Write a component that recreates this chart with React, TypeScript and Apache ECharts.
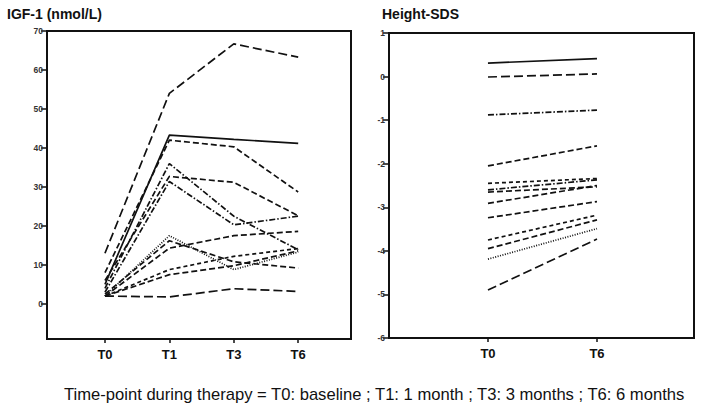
import React, { useEffect, useRef } from "react";
import * as echarts from "echarts";

const igfTimes = ["T0", "T1", "T3", "T6"];
const sdsTimes = ["T0", "T6"];

// IGF-1 (nmol/L) per patient at T0, T1, T3, T6
const igfA = [13, 54, 66.7, 63.3];
const igfB = [5, 43.3, 42.2, 41.2];
const igfC = [8, 42, 40.3, 28.7];
const igfD = [4, 36, 22.5, 13.9];
const igfE = [6, 32.7, 31.2, 22.6];
const igfF = [3, 31.4, 20.3, 22.5];
const igfG = [2, 17.5, 8.8, 13.3];
const igfH = [2, 14.3, 17.5, 18.6];
const igfI = [2.5, 16.2, 10.8, 9.2];
const igfJ = [2, 8.8, 12.2, 14.2];
const igfL = [2, 7.5, 9.8, 13.6];
const igfK = [2, 1.8, 3.9, 3.2];

// Height-SDS per patient at T0, T6
const sds1 = [0.31, 0.41];
const sds2 = [-0.01, 0.06];
const sds3 = [-0.88, -0.77];
const sds4 = [-2.05, -1.59];
const sds5 = [-2.45, -2.34];
const sds6 = [-2.6, -2.37];
const sds7 = [-2.65, -2.53];
const sds8 = [-2.91, -2.5];
const sds9 = [-3.24, -2.87];
const sds10 = [-3.75, -3.18];
const sds11 = [-3.95, -3.29];
const sds12 = [-4.19, -3.49];
const sds13 = [-4.9, -3.73];

const igfTicks = [0, 10, 20, 30, 40, 50, 60, 70];
const sdsTicks = [1, 0, -1, -2, -3, -4, -5, -6];

const footer =
  "Time-point during therapy = T0: baseline ; T1: 1 month ; T3: 3 months ; T6: 6 months";

const DASH_LONG = [9, 4];
const DASH_MED = [6, 3];
const DASH_SHORT = [4, 3];
const DOT = [1, 1.5];
const DASH_DOT = [6, 2, 1.5, 2];

const igfSeries: [number[], any][] = [
  [igfA, DASH_LONG],
  [igfB, "solid"],
  [igfC, DASH_MED],
  [igfD, DASH_DOT],
  [igfE, DASH_MED],
  [igfF, DASH_DOT],
  [igfG, DOT],
  [igfH, DASH_MED],
  [igfI, DASH_MED],
  [igfJ, DASH_SHORT],
  [igfL, DASH_MED],
  [igfK, DASH_LONG],
];

const sdsSeries: [number[], any][] = [
  [sds1, "solid"],
  [sds2, DASH_LONG],
  [sds3, DASH_DOT],
  [sds4, DASH_MED],
  [sds5, DASH_SHORT],
  [sds6, DASH_DOT],
  [sds7, DASH_MED],
  [sds8, DASH_MED],
  [sds9, DASH_MED],
  [sds10, DASH_SHORT],
  [sds11, DASH_MED],
  [sds12, DOT],
  [sds13, DASH_LONG],
];

export default function App() {
  const ref = useRef<HTMLDivElement>(null);
  useEffect(() => {
    if (!ref.current) return;
    const chart = echarts.init(ref.current, null, { renderer: "svg" });
    const axisLabelY = {
      fontSize: 8.5,
      color: "#333",
      fontWeight: "bold" as const,
      fontFamily: "Liberation Sans",
      margin: 4,
    };
    const series: any[] = [];
    igfSeries.forEach(([vals, type], i) => {
      series.push({
        type: "line",
        name: "igf" + i,
        xAxisIndex: 0,
        yAxisIndex: 0,
        data: vals.map((v, k) => [k, v]),
        symbol: "none",
        lineStyle: { color: "#111", width: 1.7, type },
      });
    });
    sdsSeries.forEach(([vals, type], i) => {
      series.push({
        type: "line",
        name: "sds" + i,
        xAxisIndex: 1,
        yAxisIndex: 1,
        data: vals.map((v, k) => [k, v]),
        symbol: "none",
        lineStyle: { color: "#111", width: 1.7, type },
      });
    });
    const axisLine = { show: true, onZero: false, lineStyle: { color: "#111", width: 2 } };
    chart.setOption({
      animation: false,
      backgroundColor: "#fff",
      title: [
        {
          text: "IGF-1 (nmol/L)",
          left: 2,
          top: 2,
          textStyle: { fontSize: 14, fontWeight: "bold", color: "#111", fontFamily: "Liberation Sans" },
        },
        {
          text: "Height-SDS",
          left: 377,
          top: 2,
          textStyle: { fontSize: 14, fontWeight: "bold", color: "#111", fontFamily: "Liberation Sans" },
        },
        {
          text: footer,
          left: 59,
          top: 381,
          textStyle: { fontSize: 16.6, fontWeight: "normal", color: "#111", fontFamily: "Liberation Sans" },
        },
      ],
      grid: [
        { left: 47, top: 31, width: 304, height: 308, show: true, borderColor: "#111", borderWidth: 2 },
        { left: 389, top: 33, width: 305, height: 305, show: true, borderColor: "#111", borderWidth: 2 },
      ],
      xAxis: [
        {
          type: "value",
          gridIndex: 0,
          min: -0.9,
          max: 3.82,
          splitLine: { show: false },
          axisLine,
          axisTick: { show: true, length: 4, customValues: [0, 1, 2, 3], lineStyle: { color: "#111", width: 1.5 } },
          axisLabel: {
            customValues: [0, 1, 2, 3],
            formatter: (v: number) => igfTimes[Math.round(v)] ?? "",
            fontSize: 13,
            fontWeight: "bold",
            color: "#111",
            fontFamily: "Liberation Sans",
            margin: 9,
          },
        },
        {
          type: "value",
          gridIndex: 1,
          min: -0.908,
          max: 1.89,
          splitLine: { show: false },
          axisLine,
          axisTick: { show: true, length: 4, customValues: [0, 1], lineStyle: { color: "#111", width: 1.5 } },
          axisLabel: {
            customValues: [0, 1],
            formatter: (v: number) => sdsTimes[Math.round(v)] ?? "",
            fontSize: 13,
            fontWeight: "bold",
            color: "#111",
            fontFamily: "Liberation Sans",
            margin: 9,
          },
        },
      ],
      yAxis: [
        {
          type: "value",
          gridIndex: 0,
          min: -9,
          max: 70,
          splitLine: { show: false },
          axisLine,
          axisTick: { show: true, length: 6, customValues: igfTicks, lineStyle: { color: "#111", width: 1.5 } },
          axisLabel: { ...axisLabelY, customValues: igfTicks },
        },
        {
          type: "value",
          gridIndex: 1,
          min: -6,
          max: 1,
          interval: 1,
          splitLine: { show: false },
          axisLine,
          axisTick: { show: true, length: 6, customValues: sdsTicks, lineStyle: { color: "#111", width: 1.5 } },
          axisLabel: { ...axisLabelY, customValues: sdsTicks },
        },
      ],
      series,
    });
    return () => chart.dispose();
  }, []);
  return <div ref={ref} style={{ width: 702, height: 407, position: "absolute", left: 0, top: 0 }} />;
}
